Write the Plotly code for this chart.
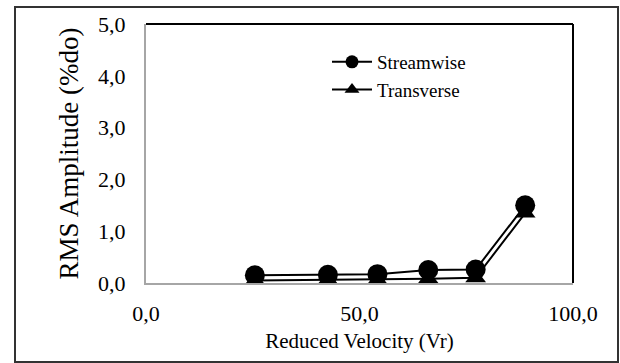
import plotly.graph_objects as go

velocity = [25.5, 42.6, 54.2, 66.1, 77.2, 88.8]
streamwise = [0.15, 0.16, 0.17, 0.25, 0.26, 1.50]
transverse = [0.05, 0.06, 0.06, 0.08, 0.10, 1.35]

FONT = "Times New Roman, Times, Liberation Serif, Nimbus Roman, DejaVu Serif, serif"

fig = go.Figure()
fig.add_trace(go.Scatter(x=velocity, y=streamwise, mode="lines+markers", name="Streamwise",
                         line=dict(color="black", width=2),
                         marker=dict(symbol="circle", size=20, color="black"), showlegend=False))
fig.add_trace(go.Scatter(x=velocity, y=transverse, mode="lines+markers", name="Transverse",
                         line=dict(color="black", width=2),
                         marker=dict(symbol="triangle-up", size=18, color="black"), showlegend=False))
# legend entries
fig.add_trace(go.Scatter(x=[None], y=[None], mode="lines+markers", name="Streamwise",
                         line=dict(color="black", width=2),
                         marker=dict(symbol="circle", size=13, color="black")))
fig.add_trace(go.Scatter(x=[None], y=[None], mode="lines+markers", name="Transverse",
                         line=dict(color="black", width=2),
                         marker=dict(symbol="triangle-up", size=13, color="black")))

W, H = 620, 363
L, R, T, B = 146, 47, 24, 80
pw, ph = W - L - R, H - T - B

def px(xp):
    return (xp - L) / pw

def py(yp):
    return (H - B - yp) / ph

fig.update_layout(
    width=W, height=H,
    margin=dict(l=L, r=R, t=T, b=B),
    paper_bgcolor="white", plot_bgcolor="white",
    separators=",.",
    font=dict(family=FONT, size=22, color="black"),
    legend=dict(x=px(327), y=py(43), xanchor="left", yanchor="top",
                bgcolor="rgba(0,0,0,0)", font=dict(size=19, family=FONT),
                tracegroupgap=0, itemwidth=40),
    xaxis=dict(range=[0, 100], dtick=50, tick0=0, tickformat=".1f", automargin=False,
               showgrid=False, zeroline=False, showline=True, linecolor="#a6a6a6", linewidth=2,
               ticks="", ticklabelstandoff=10, tickfont=dict(family=FONT, size=22),
               title=dict(text="Reduced Velocity (Vr)", standoff=8, font=dict(size=21, family=FONT))),
    yaxis=dict(range=[0, 5], dtick=1, tick0=0, tickformat=".1f", automargin=False,
               showgrid=False, zeroline=False, showline=True, linecolor="#a6a6a6", linewidth=2,
               ticks="", ticklabelstandoff=14, tickfont=dict(family=FONT, size=22),
               title=dict(text="RMS Amplitude (%do)", standoff=12, font=dict(size=27, family=FONT))),
    shapes=[
        dict(type="line", xref="paper", yref="paper", x0=0, x1=1, y0=1, y1=1,
             line=dict(color="black", width=2)),
        dict(type="line", xref="paper", yref="paper", x0=1, x1=1, y0=0, y1=1,
             line=dict(color="black", width=2)),
        dict(type="rect", xref="paper", yref="paper",
             x0=px(15), x1=px(618), y0=py(362), y1=py(7),
             line=dict(color="#333333", width=2)),
    ],
)

fig.write_html("out.html")
